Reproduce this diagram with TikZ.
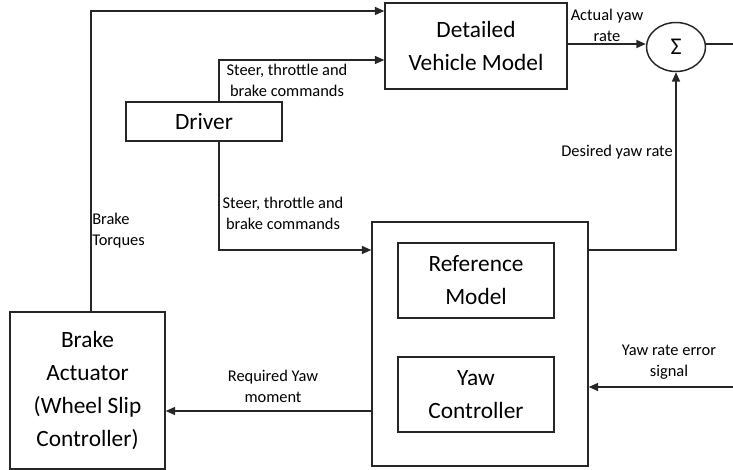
\documentclass[tikz,border=0pt]{standalone}
\usepackage{fontspec}
\setmainfont{Carlito}
\usepackage{tikz}
\usetikzlibrary{positioning, arrows.meta, shapes.geometric, calc}
\tikzset{
	>={Triangle[length=7pt, width=6pt]},
	% blocco del sistema
	blocco/.style={draw=black!85, line width=1.1pt, rectangle, inner sep=0pt, align=center,
	               font=\fontsize{17.5}{24.75}\selectfont},
	% sommatore
	somma/.style={draw=black!85, line width=1.1pt, ellipse, inner sep=0pt,
	              minimum width=44.25pt, minimum height=36.75pt, font=\fontsize{18}{20}\selectfont},
	% segnale
	seg/.style={->, line width=1.1pt, draw=black!85},
	% testo sui collegamenti
	etichetta/.style={align=center, inner sep=0pt, font=\fontsize{12.3}{15.75}\selectfont},
}

\begin{document}
\begin{tikzpicture}[x=0.75pt, y=-0.75pt]
    \useasboundingbox (0,0) rectangle (733,470);
    % blocchi
    \node[blocco, minimum width=136.5pt, minimum height=64.5pt] (dvm) at (476,46) {Detailed\\Vehicle Model};
    \node[somma] (sum) at (676,47) {Σ};
    \node[blocco, minimum width=117pt, minimum height=29.25pt] (driver) at (204,121.5) {Driver};
    \node[blocco, minimum width=162pt, minimum height=183pt] (ctrl) at (480,344) {};
    \node[blocco, minimum width=117pt, minimum height=56.25pt] (refm) at (476,280.5) {Reference\\Model};
    \node[blocco, minimum width=117pt, minimum height=56.25pt] (yawc) at (476,394.5) {Yaw\\Controller};
    \node[blocco, minimum width=116.25pt, minimum height=117.75pt] (brake) at (87.5,390.5) {Brake\\Actuator\\(Wheel Slip\\Controller)};
    % punti di passaggio
    \coordinate (bt) at (91,11);
    \coordinate (dr) at (219,60);
    \coordinate (dd) at (219,250);
    \coordinate (out) at (733,44);
    \coordinate (err) at (733,387);
    \coordinate (ry) at (373,411);
    % collegamenti
    \draw[seg] (brake.north -| bt) -- (bt) -- (dvm.west |- bt);
    \draw[seg] (driver.north -| dr) -- (dr) -- (dvm.west |- dr);
    \draw[seg] (driver.south -| dd) -- (dd) -- (ctrl.west |- dd);
    \draw[seg] (dvm.east |- out) -- (sum.west |- out);
    \draw[line width=1.1pt, draw=black!85] (sum.east |- out) -- (out);
    \draw[seg] (ctrl.east |- dd) -| (sum.south);
    \draw[seg] (err) -- (ctrl.east |- err);
    \draw[seg] (ctrl.west |- ry) -- (brake.east |- ry);
    % etichette
    \node[etichetta] (l-act) at (607,25) {Actual yaw\\rate};
    \node[etichetta] (l-sc1) at (287,80) {Steer, throttle and\\brake commands};
    \node[etichetta] (l-sc2) at (283,213) {Steer, throttle and\\brake commands};
    \node[etichetta, align=left, anchor=west] (l-bt) at (92,231) {Brake\\Torques};
    \node[etichetta] (l-des) at (617,152) {Desired yaw rate};
    \node[etichetta] (l-req) at (273,386) {Required Yaw\\moment};
    \node[etichetta] (l-err) at (669,362) {Yaw rate error\\signal};
\end{tikzpicture}
\end{document}
